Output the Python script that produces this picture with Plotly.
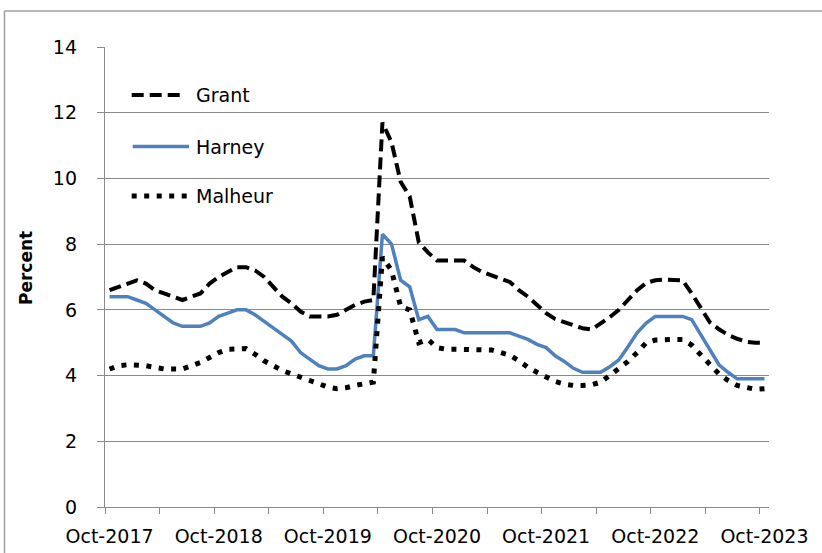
import pandas as pd
import plotly.graph_objects as go

# ---- data -------------------------------------------------------------
months = pd.date_range("2017-10-01", "2023-10-01", freq="MS").strftime("%b-%Y").tolist()

grant = [6.6, 6.7, 6.8, 6.9, 6.8, 6.6, 6.5, 6.4, 6.3, 6.4, 6.5, 6.8, 7.0, 7.15, 7.3, 7.3,
         7.2, 7.0, 6.7, 6.4, 6.2, 5.95, 5.8, 5.8, 5.8, 5.85, 6.0, 6.15, 6.25, 6.3, 11.7,
         11.1, 9.9, 9.45, 8.05, 7.75, 7.5, 7.5, 7.5, 7.5, 7.3, 7.15, 7.05, 6.95, 6.85, 6.6,
         6.4, 6.15, 5.9, 5.72, 5.62, 5.52, 5.44, 5.4, 5.58, 5.78, 6.0, 6.3, 6.6, 6.82, 6.9,
         6.92, 6.92, 6.9, 6.5, 6.05, 5.62, 5.41, 5.24, 5.12, 5.03, 5.0, 5.0]

harney = [6.4, 6.4, 6.4, 6.3, 6.2, 6.0, 5.8, 5.6, 5.5, 5.5, 5.5, 5.6, 5.8, 5.9, 6.0, 6.0,
          5.85, 5.65, 5.45, 5.25, 5.05, 4.7, 4.5, 4.3, 4.2, 4.2, 4.3, 4.5, 4.6, 4.6, 8.3,
          8.0, 6.9, 6.7, 5.7, 5.8, 5.4, 5.4, 5.4, 5.3, 5.3, 5.3, 5.3, 5.3, 5.3, 5.2, 5.1,
          4.95, 4.85, 4.6, 4.43, 4.22, 4.1, 4.1, 4.1, 4.27, 4.48, 4.88, 5.3, 5.6, 5.8, 5.8,
          5.8, 5.8, 5.7, 5.24, 4.78, 4.33, 4.1, 3.9, 3.9, 3.9, 3.9]

malheur = [4.2, 4.3, 4.33, 4.33, 4.3, 4.25, 4.2, 4.2, 4.2, 4.3, 4.4, 4.55, 4.7, 4.8, 4.82,
           4.82, 4.65, 4.45, 4.3, 4.15, 4.05, 3.93, 3.85, 3.75, 3.65, 3.6, 3.63, 3.7, 3.75,
           3.8, 7.6, 7.2, 6.1, 6.0, 5.0, 5.1, 4.85, 4.8, 4.8, 4.8, 4.8, 4.8, 4.78, 4.7, 4.62,
           4.45, 4.25, 4.1, 3.95, 3.82, 3.74, 3.7, 3.7, 3.72, 3.8, 4.02, 4.2, 4.43, 4.7, 5.0,
           5.08, 5.1, 5.1, 5.1, 4.93, 4.63, 4.33, 4.05, 3.85, 3.7, 3.64, 3.58, 3.6]

series_names = ["Grant", "Harney", "Malheur"]
y_ticks = [0, 2, 4, 6, 8, 10, 12, 14]

# ---- styling ----------------------------------------------------------
FONT = "DejaVu Sans"
GRID = "#8a8a8a"
BLUE = "#4F81BD"
styles = {
    "Grant": dict(color="black", width=4, dash="12px,6px"),
    "Harney": dict(color=BLUE, width=3.5, dash="solid"),
    "Malheur": dict(color="black", width=5, dash="5px,7.5px"),
}

x_idx = list(range(len(months)))
label_idx = [i for i, m in enumerate(months) if m.startswith("Oct")]

fig = go.Figure()
for name, vals in zip(series_names, [grant, harney, malheur]):
    fig.add_trace(go.Scatter(x=x_idx, y=vals, mode="lines", name=name,
                             line=styles[name], showlegend=False,
                             customdata=months, hovertemplate="%{customdata}: %{y}<extra>" + name + "</extra>"))

W, H = 822, 553
ML, MR, MT, MB = 105, 53, 47, 46
PW, PH = W - ML - MR, H - MT - MB


def px(xp):
    return (xp - ML) / PW


def py(yp):
    return (H - MB - yp) / PH


shapes = []
annotations = []
# manual legend
legend_rows = [("Grant", 131.7, 185, 95), ("Harney", 132.7, 189, 146.5), ("Malheur", 131.7, 187, 196)]
for name, x0, x1, yy in legend_rows:
    shapes.append(dict(type="line", xref="paper", yref="paper", x0=px(x0), x1=px(x1),
                       y0=py(yy), y1=py(yy), line=styles[name]))
    annotations.append(dict(text=name, xref="paper", yref="paper", x=px(194), y=py(yy),
                            xanchor="left", yanchor="middle", showarrow=False,
                            font=dict(family=FONT, size=19, color="black")))

# y axis title
annotations.append(dict(text="<b>Percent</b>", xref="paper", yref="paper", x=px(26), y=py(268),
                        xanchor="center", yanchor="middle", textangle=-90, showarrow=False,
                        font=dict(family="Liberation Sans Narrow, DejaVu Sans", size=17, color="black")))

# outer chart border (partially visible)
shapes.append(dict(type="line", xref="paper", yref="paper", x0=px(4.5), x1=px(830),
                   y0=py(11), y1=py(11), line=dict(color="#a0a0a0", width=1.5)))
shapes.append(dict(type="line", xref="paper", yref="paper", x0=px(4.5), x1=px(4.5),
                   y0=py(11), y1=py(560), line=dict(color="#a0a0a0", width=1.5)))

fig.update_layout(
    width=W, height=H,
    margin=dict(l=ML, r=MR, t=MT, b=MB),
    paper_bgcolor="white", plot_bgcolor="white",
    font=dict(family=FONT, size=19, color="black"),
    shapes=shapes, annotations=annotations,
    showlegend=False,
)
fig.update_xaxes(
    range=[-0.5, len(months) - 0.5], automargin=False,
    tickmode="array", tickvals=label_idx, ticktext=[months[i] for i in label_idx],
    ticks="", showgrid=False, zeroline=False,
    showline=True, linecolor=GRID, linewidth=1.3,
    tickfont=dict(family=FONT, size=19), ticklabelstandoff=12,
    minor=dict(tickmode="array", tickvals=[i - 0.5 for i in range(0, len(months), 6)],
               ticks="outside", ticklen=6, tickcolor=GRID, tickwidth=1.3, showgrid=False),
)
fig.update_yaxes(
    range=[0, 14], tickmode="array", tickvals=y_ticks, automargin=False,
    ticks="outside", ticklen=7, tickcolor=GRID, tickwidth=1.3,
    showgrid=True, gridcolor=GRID, gridwidth=1.3, zeroline=False,
    showline=True, linecolor=GRID, linewidth=1.3,
    tickfont=dict(family=FONT, size=19), ticklabelstandoff=16,
)

fig.write_html("out.html", config={"displayModeBar": False},
               post_script="document.body.style.margin='0';")
